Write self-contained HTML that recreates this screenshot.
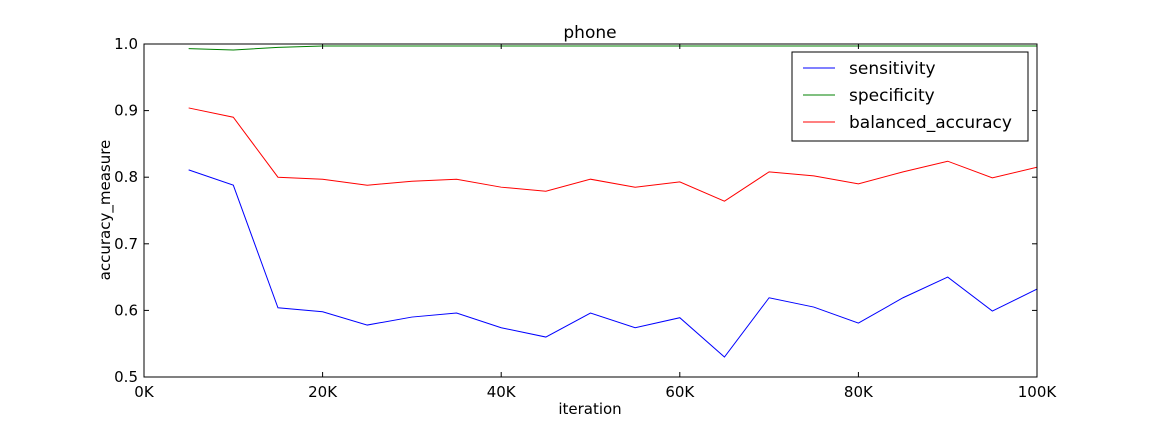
<!DOCTYPE html>
<html><head><meta charset="utf-8"><style>
body{margin:0;background:#fff;}
svg text{font-family:"DejaVu Sans","Liberation Sans",sans-serif;fill:#000;}
</style></head><body>
<svg id="chart" width="1152" height="432" xmlns="http://www.w3.org/2000/svg"></svg>
<script>
const iterations=[5,10,15,20,25,30,35,40,45,50,55,60,65,70,75,80,85,90,95,100];
const sensitivity=[0.811,0.788,0.604,0.598,0.578,0.590,0.596,0.574,0.560,0.596,0.574,0.589,0.530,0.619,0.605,0.581,0.619,0.650,0.599,0.632];
const specificity=[0.993,0.991,0.995,0.997,0.997,0.997,0.997,0.997,0.997,0.997,0.997,0.997,0.997,0.997,0.997,0.997,0.997,0.997,0.997,0.997];
const balanced=[0.904,0.890,0.800,0.797,0.788,0.794,0.797,0.785,0.779,0.797,0.785,0.793,0.764,0.808,0.802,0.790,0.808,0.824,0.799,0.815];
const xTicks=[0,20,40,60,80,100];
const xTickLabels=["0K","20K","40K","60K","80K","100K"];
const yTicks=[0.5,0.6,0.7,0.8,0.9,1.0];
const yTickLabels=["0.5","0.6","0.7","0.8","0.9","1.0"];
const seriesNames=["sensitivity","specificity","balanced_accuracy"];
const seriesColors=["#0000ff","#008000","#ff0000"];

const L=144,R=1037,T=44,B=377;
const xs=v=>L+(v-0)/(100-0)*(R-L);
const ys=v=>B-(v-0.5)/(1.0-0.5)*(B-T);
const svg=document.getElementById('chart');
const NS="http://www.w3.org/2000/svg";
function mk(tag,attrs,parent){const e=document.createElementNS(NS,tag);for(const k in attrs)e.setAttribute(k,attrs[k]);(parent||svg).appendChild(e);return e;}

const clip=mk('clipPath',{id:'pc'});mk('rect',{x:L,y:T,width:R-L,height:B-T},clip);

[sensitivity,specificity,balanced].forEach((s,i)=>{
  const p=mk('polyline',{points:s.map((v,j)=>xs(iterations[j])+','+ys(v)).join(' '),fill:'none',stroke:seriesColors[i],'stroke-width':1,'clip-path':'url(#pc)'});
  
  
});

const frame=mk('rect',{x:L,y:T,width:R-L,height:B-T,fill:'none',stroke:'#000','stroke-width':1});



xTicks.forEach((t,i)=>{
  const x=xs(t);
  mk('line',{x1:x,x2:x,y1:B,y2:B-5,stroke:'#000'});
  mk('line',{x1:x,x2:x,y1:T,y2:T+5,stroke:'#000'});
  const tx=mk('text',{x:x,y:B+20,'text-anchor':'middle','font-size':15});
  tx.textContent=xTickLabels[i];
  
  
});
yTicks.forEach((t,i)=>{
  const y=ys(t);
  mk('line',{x1:L,x2:L+5,y1:y,y2:y,stroke:'#000'});
  mk('line',{x1:R,x2:R-5,y1:y,y2:y,stroke:'#000'});
  const tx=mk('text',{x:L-6,y:y+5,'text-anchor':'end','font-size':15});
  tx.textContent=yTickLabels[i];
  
  
});

const title=mk('text',{x:590,y:38,'text-anchor':'middle','font-size':17});
title.textContent='phone';


const xt=mk('text',{x:590,y:414,'text-anchor':'middle','font-size':15});
xt.textContent='iteration';


const yt=mk('text',{x:110,y:210,'text-anchor':'middle','font-size':15,transform:'rotate(-90 110 210)'});
yt.textContent='accuracy_measure';



const lg=mk('g',{});


mk('rect',{x:792,y:52,width:236,height:89,fill:'#fff',stroke:'#000'},lg);
seriesNames.forEach((n,i)=>{
  const y=68+i*27;
  const g=mk('g',{},lg);
  
  
  mk('line',{x1:803,x2:835,y1:y,y2:y,stroke:seriesColors[i]},g);
  const t=mk('text',{x:849,y:y+6,'font-size':17},g);
  t.textContent=n;
});
</script>
</body></html>
